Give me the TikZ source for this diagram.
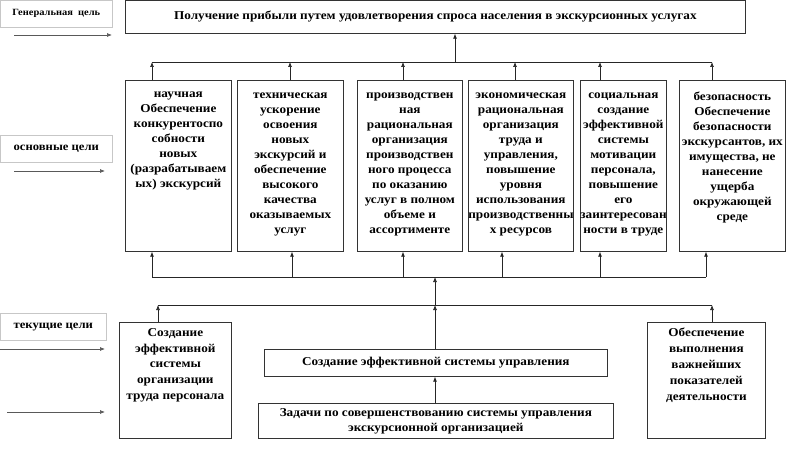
\documentclass[tikz,border=0pt]{standalone}
\usepackage{fontspec}
\setmainfont[FakeStretch=1.1]{Liberation Serif}
\usetikzlibrary{arrows.meta}
\tikzset{
  goalbox/.style={draw=black!80, line width=0.7pt, inner sep=0pt, anchor=north west,
    font=\bfseries\fontsize{12}{15}\selectfont},
  tagbox/.style={draw=black!22, line width=0.6pt, inner sep=0pt, anchor=north west,
    font=\bfseries\fontsize{11.5}{13}\selectfont},
  conn/.style={draw=black!85, line width=0.7pt},
  arr/.style={conn, -{Latex[length=5pt,width=4pt]}},
  sidearr/.style={draw=black!65, line width=0.7pt, -{Latex[length=5pt,width=4pt]}},
}
\newcommand\topbox[4]{\parbox[c][#2pt][t]{#1pt}{\centering\vspace*{#3pt}#4}}
\newcommand\midbox[3]{\parbox[c][#2pt][c]{#1pt}{\centering #3}}
\begin{document}
\begin{tikzpicture}[x=1pt,y=-1pt]
\useasboundingbox (0,0) rectangle (800,465);
% labels on the left
\node[tagbox, font=\bfseries\fontsize{9.5}{11}\selectfont] (lg) at (0,0) {\midbox{112}{27}{Генеральная\ \ цель}};
\node[tagbox] (lo) at (0,135) {\midbox{112}{27}{основные цели}};
\node[tagbox] (lt) at (0,313) {\midbox{106}{27}{текущие цели}};
\coordinate (a1s) at (14,35);  \coordinate (a1e) at (112,35);
\coordinate (a2s) at (14,171); \coordinate (a2e) at (105,171);
\coordinate (a3s) at (0,349);  \coordinate (a3e) at (105,349);
\coordinate (a4s) at (7,412);  \coordinate (a4e) at (105,412);
\draw[sidearr] (a1s) -- (a1e);
\draw[sidearr] (a2s) -- (a2e);
\draw[sidearr] (a3s) -- (a3e);
\draw[sidearr] (a4s) -- (a4e);
% general goal
\node[goalbox] (top) at (125,0) {\midbox{620}{33}{Получение прибыли путем удовлетворения спроса населения в экскурсионных услугах}};
% main goals
\node[goalbox] (b1) at (125,80) {\topbox{106}{171}{12}{научная\\Обеспечение\\конкурентоспо\\собности\\новых\\(разрабатываем\\ых) экскурсий}};
\node[goalbox] (b2) at (237,80) {\topbox{106}{171}{12}{техническая\\ускорение\\освоения\\новых\\экскурсий и\\обеспечение\\высокого\\качества\\оказываемых\\услуг}};
\node[goalbox] (b3) at (357,80) {\topbox{105}{171}{12}{производствен\\ная\\рациональная\\организация\\производствен\\ного процесса\\по оказанию\\услуг в полном\\объеме и\\ассортименте}};
\node[goalbox] (b4) at (468,80) {\topbox{105}{171}{12}{экономическая\\рациональная\\организация\\труда и\\управления,\\повышение\\уровня\\использования\\производственны\\х ресурсов}};
\node[goalbox] (b5) at (580,80) {\topbox{86}{171}{12}{социальная\\создание\\эффективной\\системы\\мотивации\\персонала,\\повышение\\его\\заинтересован\\ности в труде}};
\node[goalbox] (b6) at (679,80) {\topbox{106}{171}{12}{безопасность\\Обеспечение\\безопасности\\экскурсантов, их\\имущества, не\\нанесение\\ущерба\\окружающей\\среде}};
% current goals
\node[goalbox, font=\bfseries\fontsize{12}{15.8}\selectfont] (ll) at (119,322) {\topbox{112}{116}{6}{Создание\\эффективной\\системы\\организации\\труда персонала}};
\node[goalbox, font=\bfseries\fontsize{12}{15.8}\selectfont] (rr) at (647,322) {\topbox{118}{116}{6}{Обеспечение\\выполнения\\важнейших\\показателей\\деятельности}};
\node[goalbox] (mg) at (264,349) {\midbox{343}{27}{Создание эффективной системы управления}};
\node[goalbox] (tk) at (258,403) {\midbox{355}{35}{Задачи по совершенствованию системы управления\\экскурсионной организацией}};
% upper bus
\coordinate (t1) at (152,62); \coordinate (t2) at (290,62); \coordinate (t3) at (403,62);
\coordinate (t4) at (515,62); \coordinate (t5) at (600,62); \coordinate (t6) at (712,62);
\coordinate (tc) at (455,62);
\draw[conn] (t1) -- (t6);
\draw[arr] (tc) -- (top.south -| tc);
\foreach \i in {1,...,6} { \draw[arr] (b\i.north -| t\i) -- (t\i); }
% lower bus
\coordinate (u1) at (152,277); \coordinate (u2) at (292,277); \coordinate (u3) at (403,277);
\coordinate (u4) at (502,277); \coordinate (u5) at (600,277); \coordinate (u6) at (706,277);
\draw[conn] (u1) -- (u6);
\foreach \i in {1,...,6} { \draw[arr] (u\i) -- (b\i.south -| u\i); }
% third bus
\coordinate (v1) at (158,305); \coordinate (v2) at (712,305);
\coordinate (m1) at (435,305); \coordinate (m0) at (435,277);
\draw[conn] (v1) -- (v2);
\draw[arr] (ll.north -| v1) -- (v1);
\draw[arr] (rr.north -| v2) -- (v2);
\draw[arr] (mg.north -| m1) -- (m1);
\draw[arr] (m1) -- (m0);
\draw[arr] (tk.north -| m1) -- (mg.south -| m1);
\end{tikzpicture}
\end{document}
